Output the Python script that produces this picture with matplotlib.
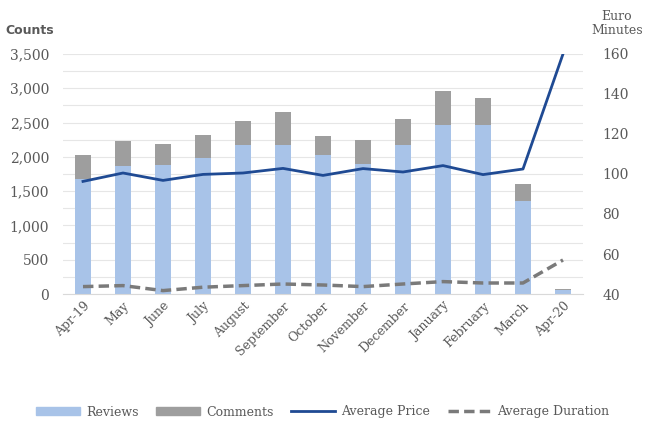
import numpy as np
import matplotlib.pyplot as plt
from matplotlib.ticker import FuncFormatter, MultipleLocator
from matplotlib.lines import Line2D
from matplotlib.patches import Patch

# data
months = ["Apr-19", "May", "June", "July", "August", "September", "October",
          "November", "December", "January", "February", "March", "Apr-20"]
reviews = [1670, 1860, 1880, 1980, 2180, 2180, 2020, 1900, 2180, 2460, 2460, 1350, 60]
totals = [2020, 2230, 2190, 2320, 2530, 2660, 2300, 2250, 2550, 2960, 2860, 1610, 70]
comments = [t - r for t, r in zip(totals, reviews)]
avg_price = [96.3, 100.5, 96.8, 99.8, 100.5, 102.8, 99.3, 102.7, 101.0, 104.2, 99.7, 102.5, 160]
avg_duration = [43.7, 44.2, 41.7, 43.4, 44.2, 45.0, 44.5, 43.7, 45.0, 46.2, 45.5, 45.5, 57]

blue_bar = "#A8C3E8"
gray_bar = "#9E9E9E"
navy = "#1F4A93"
dash_gray = "#7A7A7A"
txt = "#595959"

plt.rcParams["font.family"] = ["DejaVu Serif"]

fig = plt.figure(figsize=(6.46, 4.22), dpi=100)
ax = fig.add_axes([63 / 646, 1 - 294 / 422, 520 / 646, 240 / 422])

x = np.arange(len(months))
ax.bar(x, reviews, width=0.38, color=blue_bar, zorder=2)
ax.bar(x, comments, width=0.38, bottom=reviews, color=gray_bar, zorder=2)
ax.set_xlim(-0.5, len(months) - 0.5)
ax.set_ylim(0, 3500)
ax.yaxis.set_major_locator(MultipleLocator(500))
ax.yaxis.set_minor_locator(MultipleLocator(250))
ax.yaxis.set_major_formatter(FuncFormatter(lambda v, p: f"{int(v):,}"))
ax.grid(axis="y", which="both", color="#E6E6E6", linewidth=0.8, zorder=0)
ax.set_axisbelow(True)
for s in ["top", "right", "left"]:
    ax.spines[s].set_visible(False)
ax.spines["bottom"].set_color("#D9D9D9")
ax.tick_params(axis="y", which="both", length=0, colors=txt, labelsize=10, pad=10)
ax.tick_params(axis="x", which="both", length=0, colors=txt, pad=4)
ax.set_xticks(x)
ax.set_xticklabels(months, rotation=45, ha="right", rotation_mode="anchor", fontsize=9)

ax2 = ax.twinx()
ax2.plot(x, avg_price, color=navy, linewidth=2, zorder=3)
ax2.plot(x, avg_duration, color=dash_gray, linewidth=2.5, linestyle=(0, (3, 1.5)), zorder=3)
ax2.set_ylim(40, 160)
ax2.yaxis.set_major_locator(MultipleLocator(20))
for s in ["top", "right", "left", "bottom"]:
    ax2.spines[s].set_visible(False)
ax2.tick_params(axis="y", length=0, colors=txt, labelsize=10, pad=14)

fig.text(30 / 646, 1 - 30 / 422, "Counts", color=txt, fontsize=9, ha="center", va="center",
         family="DejaVu Sans", fontweight="bold")
fig.text(617 / 646, 1 - 24 / 422, "Euro\nMinutes", color=txt, fontsize=9, ha="center",
         va="center", linespacing=1.1)

handles = [Patch(color=blue_bar), Patch(color=gray_bar),
           Line2D([0], [0], color=navy, linewidth=2),
           Line2D([0], [0], color=dash_gray, linewidth=2.5, linestyle=(0, (3, 1.5)))]
labels = ["Reviews", "Comments", "Average Price", "Average Duration"]
leg = fig.legend(handles, labels, loc="center", bbox_to_anchor=(0.5, 1 - 412 / 422), ncol=4,
                 frameon=False, fontsize=9, handlelength=3.5, handleheight=0.6,
                 columnspacing=1.4, handletextpad=0.5)
for t in leg.get_texts():
    t.set_color(txt)

fig.savefig("out.png", dpi=100)
